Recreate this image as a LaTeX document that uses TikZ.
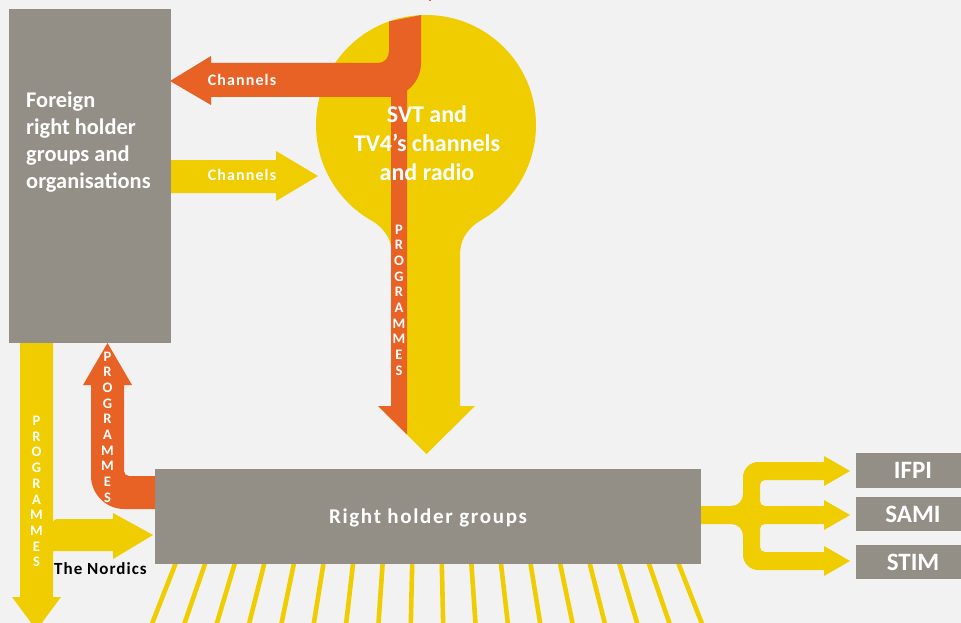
\documentclass[tikz,border=0pt]{standalone}
\usepackage{fontspec}
\setmainfont{Carlito}
\definecolor{bg}{RGB}{242,242,242}
\definecolor{gbox}{RGB}{147,143,135}
\definecolor{yel}{RGB}{239,205,0}
\definecolor{ora}{RGB}{233,98,37}
\tikzset{
  greybox/.style={fill=gbox, draw=none, inner sep=0pt, anchor=north west},
  wlabel/.style={text=white, inner sep=0pt, font=\bfseries},
  progstack/.style={text=white, inner sep=0pt, align=center, font=\fontsize{14.5}{15.7}\selectfont\bfseries},
  ray/.style={draw=yel, line width=4.6pt}
}
\begin{document}
\begin{tikzpicture}[x=1pt,y=-1pt]
\clip (0,0) rectangle (961,623);
\fill[bg] (0,0) rectangle (961,623);
% rays below the right holder box
\foreach \i in {0,...,17}{
  \draw[ray] ({427+(\i-8.5)*29.42},560) -- ({427+(\i-8.5)*33.1},640);
}
% boxes
\node[greybox, minimum width=162pt, minimum height=334pt] (foreign) at (9,9) {};
\node[greybox, minimum width=546pt, minimum height=95pt] (rhg) at (155,469) {};
\node[greybox, minimum width=110pt, minimum height=35pt] (ifpi) at (856,453) {};
\node[greybox, minimum width=110pt, minimum height=34pt] (sami) at (856,497) {};
\node[greybox, minimum width=110pt, minimum height=34pt] (stim) at (856,545) {};
% bulb
\fill[yel] (426,125) circle[radius=110pt];
\fill[yel] (350.5,205) .. controls (365,219) and (392,225) .. (392,255) -- (392,406) -- (378,406) -- (426.5,454) -- (475,406) -- (460,406) -- (460,255) .. controls (460,225) and (487,219) .. (501.5,205) -- cycle;
% orange channels band in bulb
\fill[ora] (389,21.4) -- (389,51) .. controls (389,57.6) and (384.6,63) .. (378,63) -- (211,63) -- (211,56) -- (170,81) -- (211,105) -- (211,97) -- (387,97) .. controls (405.8,97) and (421,81.8) .. (421,63) -- (421,15.1) -- cycle;
\fill[ora] (391,88) -- (391,406) -- (378,406) -- (407,434.5) -- (407,88) -- cycle;
\fill[ora] (428.5,0) rectangle (431,1.5);
% yellow channels arrow
\fill[yel] (171,160) -- (276,160) -- (276,151) -- (318,176) -- (276,201) -- (276,193) -- (171,193) -- cycle;
% left programmes arrow with Nordics branch
\fill[yel] (20,343) -- (20,597) -- (12,597) -- (36.5,630) -- (61,597) -- (53,597) -- (53,551) -- (113,551) -- (113,559) -- (153,535) -- (113,513) -- (113,519) -- (57,519) .. controls (54.8,519) and (53,520.8) .. (53,523) -- (53,343) -- cycle;
% orange programmes up arrow
\fill[ora] (155,476) -- (129,476) .. controls (126.2,476) and (124,473.8) .. (124,471) -- (124,385) -- (132,385) -- (107.5,343) -- (83,385) -- (91,385) -- (91,476) .. controls (91,494) and (106,509) .. (124,509) -- (155,509) -- cycle;
% right distribution arrows
\fill[yel] (701,506) -- (731,506) .. controls (738,506) and (743,501) .. (743,494) -- (743,477) .. controls (743,469) and (750,462) .. (758,462) -- (824,462) -- (824,456) -- (850,471) -- (824,486) -- (824,480) -- (765,480) .. controls (762,480) and (760,482) .. (760,485) -- (760,501) .. controls (760,504) and (762,506) .. (765,506) -- (824,506) -- (824,500) -- (850,515) -- (824,530) -- (824,524) -- (765,524) .. controls (762,524) and (760,526) .. (760,529) -- (760,547) .. controls (760,550) and (762,552) .. (765,552) -- (824,552) -- (824,546) -- (850,561) -- (824,576) -- (824,570) -- (758,570) .. controls (750,570) and (743,563) .. (743,555) -- (743,536) .. controls (743,529) and (738,524) .. (731,524) -- (701,524) -- cycle;
% texts
\node[wlabel, anchor=west, align=left, font=\fontsize{22.4}{26.7}\selectfont\bfseries] (foreigntext) at (26,142) {Foreign\\right holder\\groups and\\organisations};
\node[wlabel, align=center, font=\fontsize{24}{29}\selectfont\bfseries] (svt) at (427,143) {SVT and\\TV4’s channels\\and radio};
\node[wlabel, font=\fontsize{16}{18}\selectfont\bfseries\addfontfeature{LetterSpace=7}] (ch1) at (242,80) {Channels};
\node[wlabel, font=\fontsize{16}{18}\selectfont\bfseries\addfontfeature{LetterSpace=7}] (ch2) at (242,175) {Channels};
\node[progstack] (p1) at (399,300) {P\\R\\O\\G\\R\\A\\M\\M\\E\\S};
\node[progstack] (p2) at (36.5,491.5) {P\\R\\O\\G\\R\\A\\M\\M\\E\\S};
\node[progstack] (p3) at (107.5,427) {P\\R\\O\\G\\R\\A\\M\\M\\E\\S};
\node[wlabel, font=\fontsize{21}{24}\selectfont\bfseries\addfontfeature{LetterSpace=8}] (rhgtext) at (428,518) {Right holder groups};
\node[inner sep=0pt, anchor=west, font=\fontsize{17}{18}\selectfont\bfseries\addfontfeature{LetterSpace=6}] (nordics) at (54,569) {The Nordics};
\node[wlabel, font=\fontsize{25}{28}\selectfont\bfseries] at (913,470.5) {IFPI};
\node[wlabel, font=\fontsize{25}{28}\selectfont\bfseries] at (913,514) {SAMI};
\node[wlabel, font=\fontsize{25}{28}\selectfont\bfseries] at (913,562) {STIM};
\end{tikzpicture}
\end{document}
